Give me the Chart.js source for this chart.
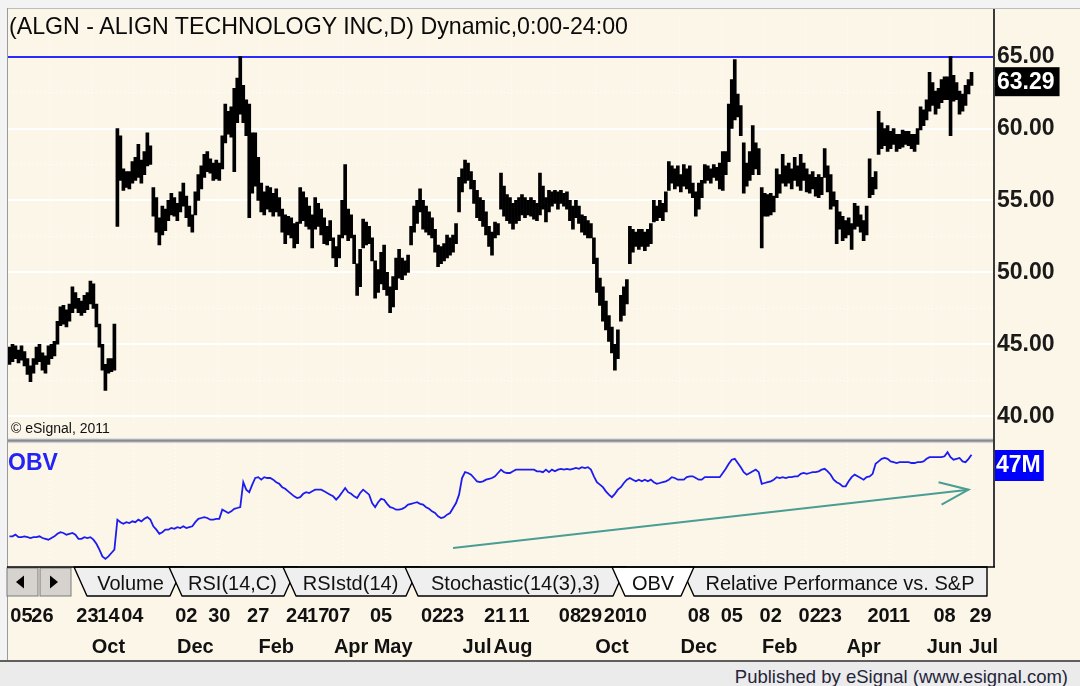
<!DOCTYPE html>
<html>
<head>
<meta charset="utf-8">
<title>ALGN - OBV</title>
<script src="https://cdn.jsdelivr.net/npm/chart.js@4.4.1/dist/chart.umd.min.js"></script>
<style>
  html, body { margin:0; padding:0; }
  body { width:1080px; height:686px; position:relative; overflow:hidden; background:#f3f3f3; font-family:"Liberation Sans", Arial, sans-serif; }
  .abs { position:absolute; }
  #panel { left:8px; top:9px; width:1072px; height:652px; background:#fcf6e9; }
  #edgeL { left:7px; top:8px; width:1px; height:654px; background:#9a9a9a; }
  #edgeT { left:7px; top:8px; width:1073px; height:1px; background:#bdbdbd; }
  canvas { position:absolute; left:0; }
  #price { top:0; }
  #obv { top:444px; }
  #title { left:9px; top:15px; font-size:23.2px; line-height:23px; color:#0a0a0a; white-space:nowrap; }
  #copy { left:11px; top:421px; font-size:14px; line-height:14px; color:#111; white-space:nowrap; }
  #obvLabel { left:8px; top:451px; font-size:23px; line-height:23px; font-weight:bold; color:#2323f5; }
  #sep { left:8px; top:437px; width:986px; height:7px; background:linear-gradient(#f4f4f4 0,#f4f4f4 1px,#d2d2d2 2px,#8a8a8a 3px,#8a8a8a 4px,#b4b4b4 5px,#eeeeee 6px,#f8f8f8 7px); }
  #axisLine { left:993px; top:9px; width:2px; height:558px; background:#3a3a3a; }
  #tabs { left:0; top:560px; }
  #footer { left:0; top:660px; width:1080px; height:26px; background:#ebebeb; border-top:2px solid #5f5f5f; box-sizing:border-box; }
  #pub { right:12px; top:668px; font-size:18.5px; line-height:18.5px; color:#25253a; white-space:nowrap; }
</style>
</head>
<body>
<div id="panel" class="abs"></div>
<div id="edgeT" class="abs"></div>
<div id="edgeL" class="abs"></div>
<canvas id="price" width="1080" height="445"></canvas>
<canvas id="obv" width="1080" height="218"></canvas>
<div id="sep" class="abs"></div>
<div id="axisLine" class="abs"></div>
<div id="title" class="abs">(ALGN - ALIGN TECHNOLOGY INC,D) Dynamic,0:00-24:00</div>
<div id="copy" class="abs">© eSignal, 2011</div>
<div id="obvLabel" class="abs">OBV</div>
<svg id="tabs" class="abs" width="1080" height="40" font-family="Liberation Sans, Arial, sans-serif" font-size="20">
  <rect x="7" y="8" width="31" height="28" fill="#d6d3ce" stroke="#7a7a7a" stroke-width="1"/>
  <polygon points="16,22 24,15.5 24,28.5" fill="#000"/>
  <rect x="40" y="8" width="31" height="28" fill="#d6d3ce" stroke="#7a7a7a" stroke-width="1"/>
  <polygon points="58,22 50,15.5 50,28.5" fill="#000"/>
  <g stroke="#000" stroke-width="1.4" stroke-linejoin="round">
    <polygon points="74,7 87,36 170,36 183,7" fill="#efefef"/>
    <polygon points="169,7 182,36 284,36 297,7" fill="#efefef"/>
    <polygon points="283,7 296,36 406,36 419,7" fill="#efefef"/>
    <polygon points="405,7 418,36 613,36 626,7" fill="#efefef"/>
    <polygon points="681,7 694,36 987,36 987,7" fill="#efefef"/>
    <polygon points="612,7 625,36 681,36 694,7" fill="#ffffff"/>
  </g>
  <line x1="7" y1="7" x2="995" y2="7" stroke="#000" stroke-width="1.5"/>
  <g fill="#111" text-anchor="middle" dominant-baseline="central">
    <text x="130.5" y="23">Volume</text>
    <text x="232.5" y="23">RSI(14,C)</text>
    <text x="350.5" y="23">RSIstd(14)</text>
    <text x="515.5" y="23">Stochastic(14(3),3)</text>
    <text x="653" y="23">OBV</text>
    <text x="840" y="23">Relative Performance vs. S&amp;P</text>
  </g>
</svg>
<div id="footer" class="abs"></div>
<div id="pub" class="abs">Published by eSignal (www.esignal.com)</div>

<script>
// ---------------- data ----------------
// one slot per daily bar; last 7 slots are the empty margin before the price axis
const barIndex = Array.from({length: 329}, (_, i) => i);

const priceLow = [
  43.6,43.8,44.0,43.7,43.9,43.5,42.9,42.4,43.0,43.6,
  43.8,43.2,43.0,43.6,44.0,44.2,45.0,46.3,46.4,46.2,
  46.6,47.2,47.5,47.2,47.0,47.2,47.4,47.8,47.5,46.2,
  44.8,43.2,41.8,43.0,43.1,43.2,53.2,56.4,55.7,55.9,
  55.8,56.2,56.4,56.6,56.2,56.8,57.4,57.5,53.9,52.8,
  51.9,52.6,52.9,53.6,54.0,53.9,53.6,54.2,54.6,53.8,
  53.2,52.8,54.0,55.0,55.8,56.6,57.0,56.9,56.4,56.5,
  56.4,57.2,59.0,59.6,59.4,57.0,60.4,61.0,60.4,59.5,
  53.8,55.5,56.0,55.0,54.2,54.0,54.4,54.2,53.9,54.2,
  53.9,52.8,52.0,52.6,52.4,51.7,52.0,53.4,53.6,53.2,
  53.0,51.7,53.0,53.2,52.6,52.0,51.9,52.2,51.0,50.4,
  51.0,52.4,52.6,52.2,52.4,50.6,48.4,49.0,51.7,51.9,
  52.0,50.8,48.2,48.6,49.2,48.8,48.4,47.2,47.6,48.8,
  49.6,49.5,49.8,50.0,51.9,52.8,53.4,54.2,53.0,52.8,
  52.6,52.4,51.4,50.4,50.6,50.8,51.0,51.2,51.4,52.0,
  54.2,55.6,56.2,56.4,55.8,54.8,53.8,53.6,53.2,52.6,
  51.8,51.2,52.4,52.6,54.4,53.9,53.6,53.4,53.0,53.4,
  53.6,54.0,53.8,54.0,53.9,53.7,53.6,54.0,54.4,53.5,
  54.2,54.6,54.8,54.4,54.8,54.6,54.4,53.6,53.0,53.8,
  53.4,52.8,52.6,52.4,52.4,50.6,48.6,47.7,46.6,46.0,
  45.2,44.4,43.2,44.0,46.6,47.0,47.8,50.6,51.4,51.8,
  51.6,51.8,51.5,51.8,52.0,53.5,53.6,53.8,53.6,54.2,
  55.7,56.2,55.8,56.0,55.6,56.0,55.8,55.5,55.2,53.9,
  54.4,55.2,56.2,56.4,56.2,56.6,56.4,55.8,55.7,56.8,
  57.7,60.0,60.6,60.8,59.5,55.5,56.0,56.4,56.8,57.2,
  56.8,51.7,53.9,53.9,54.0,54.2,55.2,55.5,56.2,56.0,
  56.2,55.8,56.4,56.0,55.7,56.4,55.6,55.5,55.8,55.3,
  55.2,55.4,56.6,55.6,54.4,54.6,52.0,53.0,52.2,52.4,
  52.6,51.6,53.0,53.2,52.8,52.2,52.6,55.2,55.4,55.8,
  58.2,58.6,58.8,58.4,58.6,58.9,58.4,58.6,58.7,58.9,
  58.8,58.6,58.4,58.9,59.9,60.2,60.6,61.2,61.6,61.0,
  61.4,61.8,62.0,62.0,59.5,61.9,62.0,61.0,61.2,61.6,62.4,63.0
];

const priceHigh = [
  44.8,45.0,44.9,44.6,44.9,44.5,44.0,43.5,44.0,44.8,
  45.0,44.4,44.2,44.9,45.0,45.2,46.6,47.6,47.7,47.4,
  47.8,49.0,48.6,48.2,48.0,48.4,48.6,49.4,49.2,47.8,
  46.4,45.0,43.6,44.0,44.0,46.4,60.0,59.5,57.2,57.0,
  57.0,57.7,58.0,58.9,57.8,58.4,59.7,58.8,55.9,55.2,
  53.8,54.6,54.4,55.0,55.5,55.2,54.8,55.6,56.2,55.3,
  54.6,54.0,55.6,56.8,57.4,58.2,58.4,57.9,57.6,57.8,
  57.6,59.5,61.7,61.2,61.5,62.8,63.5,65.0,63.0,62.0,
  61.7,59.7,59.7,58.0,56.2,55.6,56.0,55.9,55.5,55.8,
  55.2,54.4,54.0,53.9,53.8,53.4,53.5,55.9,55.6,55.2,
  54.6,54.0,55.2,54.8,54.4,53.8,53.2,53.6,52.4,51.8,
  52.6,55.0,57.5,54.4,54.0,52.6,50.6,51.6,53.7,53.5,
  53.2,52.4,50.8,50.2,51.4,51.9,50.0,49.0,49.7,51.0,
  51.6,51.0,50.8,51.2,53.2,54.6,55.0,55.8,55.0,54.6,
  54.2,53.8,53.0,51.9,51.8,52.0,52.6,52.4,52.6,53.4,
  56.6,57.2,57.8,57.6,57.0,56.4,55.7,55.2,55.0,54.2,
  53.2,52.8,53.5,53.4,56.9,56.0,55.4,55.2,54.8,55.0,
  55.2,55.4,55.2,55.0,55.2,55.0,54.8,56.9,56.0,55.2,
  55.7,55.6,55.7,55.6,55.7,55.5,55.6,55.0,54.6,55.0,
  54.6,54.0,53.9,53.6,53.4,52.4,51.0,49.6,49.0,48.0,
  47.0,46.2,45.0,46.0,48.4,49.0,49.5,53.2,53.0,52.8,
  53.0,53.0,52.8,53.0,53.4,55.0,54.6,55.0,54.8,55.6,
  57.7,57.4,57.2,57.4,56.8,57.5,57.2,57.4,56.2,55.6,
  56.2,56.4,57.5,57.4,57.2,57.5,57.3,57.6,58.4,58.4,
  61.7,63.4,64.8,62.4,61.6,59.0,57.6,58.4,60.2,59.0,
  58.6,55.9,55.5,55.4,55.5,55.3,57.2,56.8,58.2,57.4,
  57.6,57.2,58.0,57.4,58.2,57.6,57.2,56.8,57.0,56.6,
  56.8,56.6,58.6,57.4,56.8,55.6,55.0,54.2,53.9,53.6,
  53.8,53.4,54.8,54.6,54.0,53.6,54.6,57.9,56.6,57.0,
  61.2,60.4,60.0,60.2,59.8,60.0,59.6,59.6,59.9,59.8,
  59.8,59.6,59.6,60.0,61.5,61.3,62.0,63.9,63.2,62.6,
  62.8,63.4,63.6,63.6,65.0,63.7,63.2,62.6,62.4,63.0,63.4,63.9
];

const lastClose = 63.29;
const priceHighLine = 65;                 // blue level line
const priceLabelLevels = [40, 45, 50, 55, 60, 65];

// On Balance Volume, millions
const obvValues = [
  37.2,37.2,37.4,37.1,37.1,37.2,37.1,37.0,37.1,37.1,
  37.2,37.0,36.9,36.8,37.0,37.2,37.5,37.7,37.6,37.4,
  37.5,37.6,37.4,36.9,36.9,37.1,37.0,37.1,36.8,36.3,
  35.6,34.8,34.5,34.8,35.2,35.6,39.2,38.9,38.7,38.9,
  38.8,39.0,38.9,39.2,39.0,39.3,39.5,39.2,38.4,38.0,
  37.5,37.7,38.0,38.0,38.2,38.1,38.3,38.2,38.4,38.2,
  38.3,38.4,38.9,39.3,39.4,39.5,39.4,39.2,39.2,39.3,
  39.3,40.4,40.2,40.0,40.2,40.5,40.6,40.7,43.7,42.8,
  42.5,43.4,44.2,44.3,44.0,44.3,44.2,44.2,44.0,43.7,
  43.5,43.1,42.9,42.6,42.3,42.0,41.8,41.9,42.3,42.5,
  42.4,42.6,42.8,42.8,42.8,42.6,42.4,42.2,42.0,41.6,
  42.0,42.5,43.0,42.5,42.3,42.0,41.8,42.4,42.8,42.5,
  42.2,41.2,40.7,41.3,41.7,41.6,41.1,40.7,40.6,40.4,
  40.4,40.5,40.7,41.0,41.1,41.2,41.3,41.1,41.0,40.7,
  40.5,40.2,40.0,39.6,39.4,39.5,39.8,40.0,40.6,41.2,
  42.2,44.2,44.9,44.8,44.6,44.2,43.8,43.7,43.8,44.0,
  44.1,44.2,44.4,44.8,45.2,44.9,44.8,44.8,45.0,45.2,
  45.2,45.2,45.2,45.2,45.2,45.2,45.0,45.0,44.9,45.2,
  44.9,45.2,45.0,45.2,45.3,45.2,45.3,45.2,45.3,45.4,
  45.3,45.5,45.4,45.5,45.2,44.4,43.7,43.4,43.1,42.6,
  42.2,41.9,42.3,42.8,43.1,43.6,44.0,44.2,44.0,43.8,
  44.0,43.8,44.0,43.8,44.0,43.7,43.5,43.6,43.7,43.8,
  44.0,44.3,44.2,44.0,44.0,44.0,44.3,44.4,44.4,44.2,
  44.0,44.0,44.3,44.3,44.3,44.3,44.3,44.3,44.8,45.3,
  45.9,46.4,46.5,46.0,45.5,44.9,44.6,44.8,45.0,45.2,
  44.9,43.5,43.6,43.7,43.8,44.0,44.3,44.2,44.3,44.2,
  44.3,44.3,44.4,44.4,44.7,44.8,44.7,44.8,44.9,44.9,
  45.0,45.2,45.3,45.0,44.6,44.0,43.7,43.5,43.2,43.2,
  43.8,44.3,44.6,44.4,44.2,44.0,44.3,44.4,44.7,45.9,
  46.2,46.5,46.6,46.5,46.2,46.1,46.0,46.1,46.1,46.1,
  46.1,46.0,46.0,46.1,46.1,46.2,46.5,46.7,46.7,46.7,
  46.7,46.7,46.8,47.3,46.7,46.4,46.5,46.6,46.2,46.1,46.5,47.0
];

// hand-drawn trend arrow on the OBV pane (bar index, OBV value)
const trendLine = [{x: 148, y: 35.8}, {x: 320, y: 42.8}];
const trendHead = [{x: 310, y: 43.7}, {x: 320, y: 42.8}, {x: 311, y: 41.0}];

// date axis
const dayTickIdx  = [4,11,26,33,41,59,70,83,96,103,110,124,141,148,162,170,187,194,202,209,230,241,254,267,274,290,297,312,324];
const dayTickText = ['05','26','23','14','04','02','30','27','24','17','07','05','02','23','21','11','08','29','20','10','08','05','02','02','23','20','11','08','29'];
const monthTickIdx  = [33,62,89,114,128,156,168,201,230,257,285,312,325];
const monthTickText = ['Oct','Dec','Feb','Apr','May','Jul','Aug','Oct','Dec','Feb','Apr','Jun','Jul'];

// ---------------- charts ----------------
const FONT = 'Liberation Sans';
Chart.defaults.font.family = FONT;

const PX_PER_UNIT = 15;          // price pane scale
const priceMin = 65 - (438 - 50.5) / PX_PER_UNIT;
const priceMax = 65 + (50.5 - 9) / PX_PER_UNIT;
const obvMin = 34, obvMax = 48.28;

const vGrid = (c) => (c.index !== undefined && c.index > 0 && c.index % 14 === 0) ? 'rgba(255,255,255,0.95)' : 'rgba(0,0,0,0)';

const priceBadge = {
  id: 'priceBadge',
  afterDraw(chart) {
    const {ctx, chartArea, scales: {y}} = chart;
    const py = y.getPixelForValue(lastClose);
    ctx.save();
    ctx.font = 'bold 23px "' + FONT + '"';
    const txt = lastClose.toFixed(2);
    const w = ctx.measureText(txt).width + 7;
    ctx.fillStyle = '#000';
    ctx.fillRect(chartArea.right + 1, py - 14, w, 29);
    ctx.fillStyle = '#fff';
    ctx.textBaseline = 'middle';
    ctx.fillText(txt, chartArea.right + 3, py + 1);
    ctx.restore();
  }
};

new Chart(document.getElementById('price'), {
  type: 'bar',
  data: {
    labels: barIndex,
    datasets: [{
      data: priceLow.map((l, i) => [l, priceHigh[i]]),
      backgroundColor: '#000',
      borderWidth: 0,
      barThickness: 3
    }]
  },
  options: {
    responsive: false,
    animation: false,
    events: [],
    layout: { padding: { left: 8, top: 9, right: 0, bottom: 7 } },
    plugins: { legend: { display: false }, tooltip: { enabled: false } },
    scales: {
      x: {
        type: 'category', offset: true,
        ticks: { display: false },
        grid: { drawTicks: false, color: vGrid, lineWidth: 1 },
        border: { display: false, dash: [1, 3] }
      },
      y: {
        position: 'right', min: priceMin, max: priceMax,
        afterFit: (s) => { s.width = 86; },
        afterBuildTicks: (s) => {
          const t = [];
          for (let v = priceLabelLevels[0]; v <= priceLabelLevels[priceLabelLevels.length - 1] + 1e-9; v += 2.5) t.push({value: v});
          s.ticks = t;
        },
        ticks: {
          callback: (v) => priceLabelLevels.includes(v) ? v.toFixed(2) : '',
          font: { size: 23, weight: 'bold' }, color: '#1a1a1a', padding: 3
        },
        grid: {
          drawTicks: false,
          color: (c) => !c.tick ? 'rgba(0,0,0,0)' : (c.tick.value === priceHighLine ? '#2a2aff' : (c.tick.value % 5 === 0 ? '#ffffff' : 'rgba(255,255,255,0.95)')),
          lineWidth: (c) => (c.tick && c.tick.value % 5 === 0) ? 2 : 1
        },
        border: { display: false, dash: (c) => (c.tick && c.tick.value % 5 !== 0) ? [1, 3] : [] }
      }
    }
  },
  plugins: [priceBadge]
});

const obvBadge = {
  id: 'obvBadge',
  afterDraw(chart) {
    const {ctx, chartArea, scales: {y}} = chart;
    const last = obvValues[obvValues.length - 1];
    const py = y.getPixelForValue(last);
    const top = Math.max(chartArea.top + 6, py - 10);
    ctx.save();
    ctx.font = 'bold 23px "' + FONT + '"';
    const txt = Math.round(last) + 'M';
    const w = ctx.measureText(txt).width + 4;
    ctx.fillStyle = '#0000ff';
    ctx.fillRect(chartArea.right + 1, top, w, 31);
    ctx.fillStyle = '#fff';
    ctx.textBaseline = 'middle';
    ctx.fillText(txt, chartArea.right + 2, top + 16);
    ctx.restore();
  }
};

const dayAt = (i) => { const k = dayTickIdx.indexOf(i); return k >= 0 ? dayTickText[k] : ''; };
const monAt = (i) => { const k = monthTickIdx.indexOf(i); return k >= 0 ? monthTickText[k] : ''; };

new Chart(document.getElementById('obv'), {
  type: 'line',
  data: {
    labels: barIndex,
    datasets: [
      { data: obvValues, borderColor: '#1c1cf0', borderWidth: 1.8, pointRadius: 0, tension: 0 },
      { data: trendLine, borderColor: '#4a9d93', borderWidth: 2, pointRadius: 0, tension: 0 },
      { data: trendHead, borderColor: '#4a9d93', borderWidth: 2, pointRadius: 0, tension: 0 }
    ]
  },
  options: {
    responsive: false,
    animation: false,
    events: [],
    layout: { padding: { left: 8, top: 0, right: 0, bottom: 0 } },
    plugins: { legend: { display: false }, tooltip: { enabled: false } },
    scales: {
      x: {
        type: 'category', offset: true, weight: 0,
        ticks: { display: false, padding: 0 },
        grid: { drawTicks: false, color: vGrid, lineWidth: 1, offset: true },
        border: { display: false, dash: [1, 3] },
        afterFit: (s) => { s.height = 41; }      // room for the indicator tabs
      },
      xDay: {
        type: 'category', position: 'bottom', offset: true, weight: 1,
        grid: { display: false, drawTicks: false }, border: { display: false },
        ticks: { autoSkip: false, maxRotation: 0, minRotation: 0, padding: 0,
                 font: { size: 20, weight: 'bold', lineHeight: 1.2 }, color: '#111',
                 callback: (v, i) => dayAt(i) },
        afterFit: (s) => { s.height = 23; }
      },
      xMon: {
        type: 'category', position: 'bottom', offset: true, weight: 2,
        grid: { display: false, drawTicks: false }, border: { display: false },
        ticks: { autoSkip: false, maxRotation: 0, minRotation: 0, padding: 8,
                 font: { size: 20, weight: 'bold', lineHeight: 1.2 }, color: '#111',
                 callback: (v, i) => monAt(i) },
        afterFit: (s) => { s.height = 35; }
      },
      y: {
        position: 'right', min: obvMin, max: obvMax,
        ticks: { display: false },
        grid: { display: false },
        border: { display: false },
        afterFit: (s) => { s.width = 86; }
      }
    }
  },
  plugins: [obvBadge]
});
</script>
</body>
</html>
